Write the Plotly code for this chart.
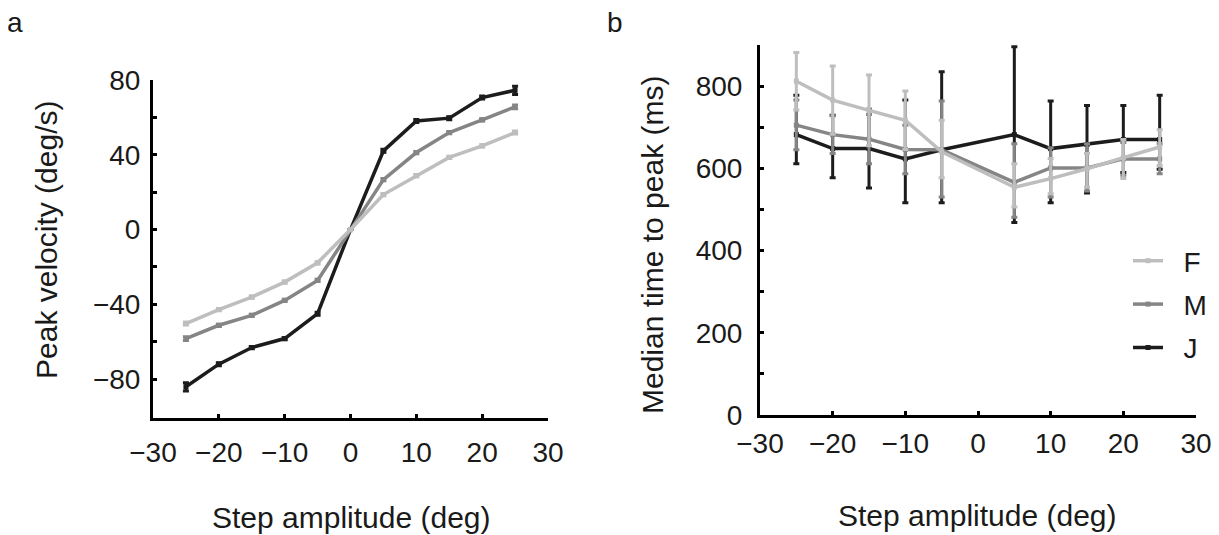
import plotly.graph_objects as go

# ---- Panel a: peak velocity ----
amp_a = [-25, -20, -15, -10, -5, 0, 5, 10, 15, 20, 25]
F_vel = [-50.3, -42.8, -36.1, -28.1, -17.8, 0, 18.7, 28.8, 38.6, 44.8, 51.9]
M_vel = [-58.3, -51.2, -45.9, -37.9, -27.2, 0, 26.7, 41.2, 51.9, 58.7, 65.6]
J_vel = [-84.1, -72.0, -63.1, -58.3, -45.0, 0, 42.1, 58.1, 59.6, 70.6, 74.5]
F_vel_err = [0.8, 0.6, 0.6, 0.6, 0.6, 0, 0.6, 0.6, 0.6, 0.6, 0.8]
M_vel_err = [1.0, 0.6, 0.6, 0.6, 0.6, 0, 0.6, 0.6, 0.6, 0.6, 1.0]
J_vel_err = [2.2, 0.8, 0.6, 0.6, 0.8, 0, 0.8, 0.8, 0.8, 0.8, 2.2]

# ---- Panel b: median time to peak ----
amp_b = [-25, -20, -15, -10, -5, 5, 10, 15, 20, 25]
F_t = [812, 766, 741, 717, 640, 554, 575, 599, 626, 652]
F_hi = [882, 849, 827, 788, 717, 611, 624, 636, 670, 694]
F_lo = [742, 683, 655, 646, 577, 506, 538, 554, 575, 607]
M_t = [705, 682, 671, 646, 645, 566, 601, 601, 623, 623]
M_hi = [766, 728, 731, 705, 764, 660, 650, 660, 663, 660]
M_lo = [645, 636, 611, 587, 530, 481, 530, 545, 583, 587]
J_t = [682, 648, 648, 623, 645, 682, 648, 658, 670, 670]
J_hi = [778, 729, 744, 766, 835, 896, 764, 753, 753, 778]
J_lo = [611, 577, 552, 516, 516, 468, 516, 540, 590, 598]

names = ["J", "M", "F"]           # drawing order (F on top)
legend_rank = {"F": 1, "M": 2, "J": 3}
colors = {"F": "#bebebe", "M": "#858585", "J": "#1c1c1c"}

# page body has an 8px margin: figure occupies the window from (8, 8)
OFF = 8
W, H = 1219 - OFF, 535 - OFF


def px(x):
    return (x - OFF) / W


def py(y):
    return 1 - (y - OFF) / H


FONT = "Liberation Sans, Arial, Helvetica, sans-serif"
TICK = 28
TITLE = 30

fig = go.Figure()

vel = {"F": (F_vel, F_vel_err), "M": (M_vel, M_vel_err), "J": (J_vel, J_vel_err)}
tt = {"F": (F_t, F_hi, F_lo), "M": (M_t, M_hi, M_lo), "J": (J_t, J_hi, J_lo)}

for n in names:
    y, e = vel[n]
    fig.add_trace(go.Scatter(
        x=amp_a, y=y, mode="lines+markers", name=n, showlegend=False,
        line=dict(color=colors[n], width=3.5),
        marker=dict(symbol="square", size=5, color=colors[n]),
        error_y=dict(type="data", array=e, color=colors[n], thickness=3, width=3),
        xaxis="x", yaxis="y"))

for n in names:
    m, hi, lo = tt[n]
    fig.add_trace(go.Scatter(
        x=amp_b, y=m, mode="lines+markers", name="\u00a0\u00a0" + n,
        legendrank=legend_rank[n], legendgroup=n,
        line=dict(color=colors[n], width=3.5),
        marker=dict(symbol="square", size=5, color=colors[n]),
        error_y=dict(type="data", symmetric=False,
                     array=[h - v for h, v in zip(hi, m)],
                     arrayminus=[v - l for l, v in zip(lo, m)],
                     color=colors[n], thickness=3, width=3),
        xaxis="x2", yaxis="y2"))

axis_common = dict(showline=True, linecolor="black", linewidth=3, ticks="inside",
                   ticklen=4, tickwidth=2.5, tickcolor="black", showgrid=False,
                   zeroline=False, automargin=False,
                   tickfont=dict(size=TICK, color="#1a1a1a", family=FONT))

fig.update_layout(
    width=W, height=H,
    margin=dict(l=0, r=0, t=0, b=0, autoexpand=False),
    paper_bgcolor="white", plot_bgcolor="white",
    font=dict(family=FONT, color="#1a1a1a"),
    xaxis=dict(domain=[px(153), px(548)], range=[-30, 30], tickvals=[-30, -20, -10, 0, 10, 20, 30],
               anchor="y", ticklabelstandoff=7, **axis_common),
    yaxis=dict(domain=[py(418), py(80)], range=[-100.8, 80],
               tickvals=[-80, -60, -40, -20, 0, 20, 40, 60, 80],
               ticktext=["\u221280", "", "\u221240", "", "0", "", "40", "", "80"],
               anchor="x", ticklabelstandoff=4, **axis_common),
    xaxis2=dict(domain=[px(760), px(1196)], range=[-30, 30], tickvals=[-30, -20, -10, 0, 10, 20, 30],
                anchor="y2", ticklabelstandoff=1, **axis_common),
    yaxis2=dict(domain=[py(415), py(45)], range=[0, 900],
                tickvals=[0, 100, 200, 300, 400, 500, 600, 700, 800],
                ticktext=["0", "", "200", "", "400", "", "600", "", "800"],
                anchor="x2", ticklabelstandoff=9, **axis_common),
    legend=dict(x=px(1128), y=py(236), xanchor="left", yanchor="top",
                traceorder="grouped", tracegroupgap=4,
                font=dict(size=TICK, family=FONT, color="#1a1a1a"),
                bgcolor="rgba(0,0,0,0)", itemwidth=30),
)

ann = [
    dict(text="a", x=px(15), y=py(22), xanchor="center", yanchor="middle", font=dict(size=TICK)),
    dict(text="b", x=px(615), y=py(22), xanchor="center", yanchor="middle", font=dict(size=TICK)),
    dict(text="Peak velocity (deg/s)", x=px(47), y=py(240), textangle=-90,
         xanchor="center", yanchor="middle", font=dict(size=TITLE)),
    dict(text="Step amplitude (deg)", x=px(351), y=py(517),
         xanchor="center", yanchor="middle", font=dict(size=TITLE)),
    dict(text="Median time to peak (ms)", x=px(652), y=py(245), textangle=-90,
         xanchor="center", yanchor="middle", font=dict(size=TITLE)),
    dict(text="Step amplitude (deg)", x=px(977), y=py(515),
         xanchor="center", yanchor="middle", font=dict(size=TITLE)),
]
for a in ann:
    a.update(xref="paper", yref="paper", showarrow=False)
    a["font"].update(family=FONT, color="#1a1a1a")
fig.update_layout(annotations=ann)

fig.write_html("out.html")
